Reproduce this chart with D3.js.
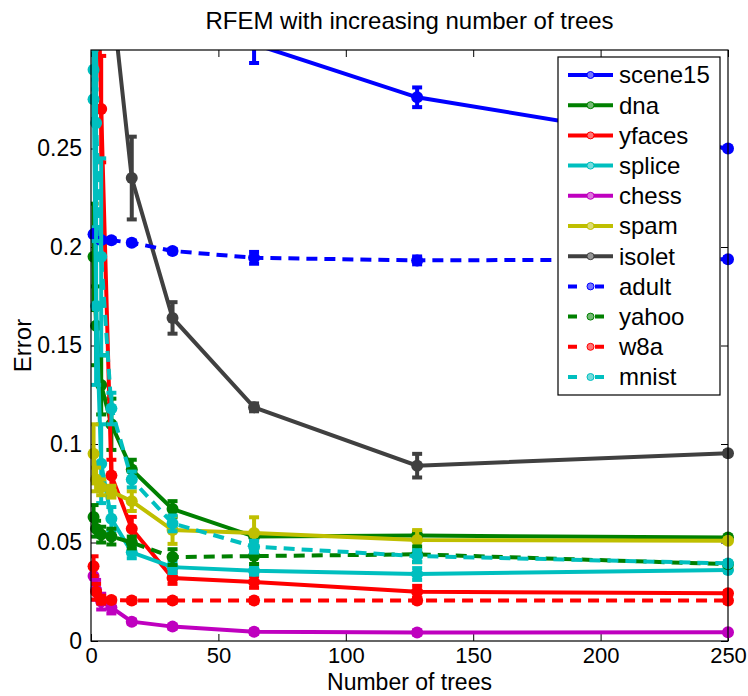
<!DOCTYPE html>
<html>
<head>
<meta charset="utf-8">
<script src="https://cdn.jsdelivr.net/npm/d3@7"></script>
<style>
  body { margin: 0; background: #fff; }
  text { font-family: "Liberation Sans", Arial, sans-serif; fill: #000; }
</style>
</head>
<body>
<div class="chart"></div>
<script>
// nombre d'arbres (axe x)
var trees = [1, 2, 4, 8, 16, 32, 64, 128, 250];
var xTicks = [0, 50, 100, 150, 200, 250];
var yTicks = [0, 0.05, 0.1, 0.15, 0.2, 0.25];

var names  = ["scene15", "dna", "yfaces", "splice", "chess", "spam", "isolet", "adult", "yahoo", "w8a", "mnist"];
var dashed = [false, false, false, false, false, false, false, true, true, true, true];
var colors = ["#0000FF", "#008000", "#FF0000", "#00BFBF", "#BF00BF", "#BFBF00", "#404040",
              "#0000FF", "#008000", "#FF0000", "#00BFBF"];

// erreurs moyennes + écarts
var scene15    = [0.62, 0.55, 0.48, 0.42, 0.37, 0.33, 0.303, 0.276, 0.250];
var scene15Err = [0.02, 0.02, 0.02, 0.015, 0.012, 0.01, 0.0096, 0.005, 0];
var dna        = [0.195, 0.16, 0.13, 0.110, 0.087, 0.067, 0.053, 0.0535, 0.0525];
var dnaErr     = [0.027, 0.02, 0.015, 0.013, 0.005, 0.004, 0.002, 0.002, 0];
var yfaces     = [0.45, 0.38, 0.27, 0.084, 0.057, 0.032, 0.030, 0.025, 0.0242];
var yfacesErr  = [0.03, 0.03, 0.027, 0.008, 0.006, 0.003, 0.003, 0.003, 0.001];
var splice     = [0.290, 0.170, 0.090, 0.062, 0.045, 0.0375, 0.0357, 0.034, 0.036];
var spliceErr  = [0.01, 0.04, 0.02, 0.006, 0.003, 0.003, 0.002, 0.003, 0.001];
var chess      = [0.033, 0.026, 0.020, 0.017, 0.0098, 0.0073, 0.0047, 0.0043, 0.0045];
var chessErr   = [0.005, 0.005, 0.004, 0.003, 0.001, 0.001, 0.001, 0.001, 0.0005];
var spam       = [0.095, 0.082, 0.078, 0.0758, 0.071, 0.0563, 0.0548, 0.0513, 0.0509];
var spamErr    = [0.015, 0.006, 0.004, 0.003, 0.005, 0.007, 0.008, 0.005, 0.001];
var isolet     = [0.45, 0.41, 0.37, 0.33, 0.235, 0.164, 0.1186, 0.089, 0.0953];
var isoletErr  = [0.02, 0.02, 0.02, 0.02, 0.021, 0.008, 0.002, 0.006, 0.001];
var adult      = [0.2065, 0.2055, 0.2036, 0.2034, 0.2022, 0.198, 0.1945, 0.1932, 0.1938];
var adultErr   = [0.002, 0.002, 0.001, 0.001, 0.001, 0.001, 0.003, 0.002, 0.001];
var yahoo      = [0.063, 0.057, 0.054, 0.053, 0.050, 0.0426, 0.0431, 0.044, 0.039];
var yahooErr   = [0.006, 0.004, 0.004, 0.004, 0.003, 0.004, 0.004, 0.004, 0.001];
var w8a        = [0.038, 0.025, 0.021, 0.0208, 0.0205, 0.0205, 0.0205, 0.0205, 0.0205];
var w8aErr     = [0.005, 0.004, 0.002, 0.001, 0.001, 0.001, 0.001, 0.001, 0.001];
var mnist      = [0.275, 0.263, 0.195, 0.118, 0.082, 0.0597, 0.0479, 0.0431, 0.0394];
var mnistErr   = [0.01, 0.06, 0.05, 0.008, 0.004, 0.004, 0.003, 0.003, 0.001];

var values = [scene15, dna, yfaces, splice, chess, spam, isolet, adult, yahoo, w8a, mnist];
var errors = [scene15Err, dnaErr, yfacesErr, spliceErr, chessErr, spamErr, isoletErr, adultErr, yahooErr, w8aErr, mnistErr];

var series = names.map(function(n, i) {
	return {
		name: n, color: colors[i], dashed: dashed[i],
		points: trees.map(function(t, j) { return { t: t, v: values[i][j], e: errors[i][j] }; })
	};
});

var W = 748, H = 696;
var margin = {top: 50, right: 20, bottom: 55, left: 91};
var width = 728 - margin.left, height = 641 - margin.top;

var x = d3.scaleLinear().domain([0, 250]).range([0, width]);
var y = d3.scaleLinear().domain([0, 0.3]).range([height, 0]);

var svg = d3.select(".chart").append("svg")
	.attr("width", W).attr("height", H);

var g = svg.append("g")
	.attr("transform", "translate(" + margin.left + "," + margin.top + ")");

svg.append("defs").append("clipPath").attr("id", "clip")
	.append("rect").attr("width", width).attr("height", height);

// axes (graduations vers l'intérieur, comme matlab)
g.append("g")
	.attr("class", "x axis")
	.attr("transform", "translate(0," + height + ")")
	.call(d3.axisBottom(x).tickValues(xTicks).tickSizeInner(-7).tickSizeOuter(0).tickPadding(6))
	.selectAll("text").style("font-size", "22px");

g.append("g")
	.call(d3.axisTop(x).tickValues(xTicks).tickSizeInner(-7).tickSizeOuter(0).tickFormat(""));

g.append("g")
	.attr("class", "y axis")
	.call(d3.axisLeft(y).tickValues(yTicks).tickSizeInner(-7).tickSizeOuter(0).tickPadding(9)
		.tickFormat(function(d) { return d3.format("~g")(d); }))
	.selectAll("text").style("font-size", "23px");

g.append("g")
	.attr("transform", "translate(" + width + ",0)")
	.call(d3.axisRight(y).tickValues(yTicks).tickSizeInner(-7).tickSizeOuter(0).tickFormat(""));

g.selectAll(".domain").remove();
g.selectAll(".tick line").attr("stroke", "#000");

var plot = g.append("g");

var line = d3.line()
	.x(function(d) { return x(d.t); })
	.y(function(d) { return y(d.v); });

var capW = 5;

series.forEach(function(s) {
	var sg = plot.append("g").attr("class", "serie");

	// barres d'erreur
	var eb = sg.append("g").attr("clip-path", "url(#clip)")
		.selectAll("g").data(s.points.filter(function(d) { return d.e > 0; }))
		.enter().append("g")
		.attr("stroke", s.color).attr("stroke-width", 4);
	eb.append("line")
		.attr("x1", function(d) { return x(d.t); }).attr("x2", function(d) { return x(d.t); })
		.attr("y1", function(d) { return y(d.v - d.e); }).attr("y2", function(d) { return y(d.v + d.e); });
	eb.append("line")
		.attr("x1", function(d) { return x(d.t) - capW; }).attr("x2", function(d) { return x(d.t) + capW; })
		.attr("y1", function(d) { return y(d.v - d.e); }).attr("y2", function(d) { return y(d.v - d.e); });
	eb.append("line")
		.attr("x1", function(d) { return x(d.t) - capW; }).attr("x2", function(d) { return x(d.t) + capW; })
		.attr("y1", function(d) { return y(d.v + d.e); }).attr("y2", function(d) { return y(d.v + d.e); });

	// courbe
	sg.append("path")
		.datum(s.points)
		.attr("clip-path", "url(#clip)")
		.attr("fill", "none")
		.attr("stroke", s.color)
		.attr("stroke-width", 4)
		.attr("stroke-dasharray", s.dashed ? "11,7" : null)
		.attr("d", line);

	// points (seulement ceux dans les limites)
	sg.selectAll("circle")
		.data(s.points.filter(function(d) { return d.v <= 0.3; }))
		.enter().append("circle")
		.attr("cx", function(d) { return x(d.t); })
		.attr("cy", function(d) { return y(d.v); })
		.attr("r", 6)
		.attr("fill", s.color);
});

// cadre
g.append("rect")
	.attr("width", width).attr("height", height)
	.attr("fill", "none").attr("stroke", "#000").attr("stroke-width", 1.2);

// légende
var legend = g.append("g").attr("transform", "translate(" + (558 - margin.left) + "," + (57 - margin.top) + ")");
legend.append("rect")
	.attr("width", 162).attr("height", 338)
	.attr("fill", "#fff").attr("stroke", "#000").attr("stroke-width", 1.2);

var items = legend.selectAll(".legend")
	.data(series).enter().append("g")
	.attr("class", "legend")
	.attr("transform", function(_, i) { return "translate(0," + (18 + i * 30.2) + ")"; });

items.append("line")
	.attr("x1", 10).attr("x2", 55)
	.attr("stroke", function(d) { return d.color; })
	.attr("stroke-width", 4)
	.attr("stroke-dasharray", function(d) { return d.dashed ? "9,18" : null; });

items.append("circle")
	.attr("cx", 32.5).attr("r", 3.5)
	.attr("fill", function(d) { return d3.interpolateRgb(d.color, "#fff")(0.45); })
	.attr("stroke", function(d) { return d.color; })
	.attr("stroke-width", 1);

items.append("text")
	.attr("x", 61).attr("dy", "0.35em")
	.style("font-size", "24px")
	.text(function(d) { return d.name; });

// titres
svg.append("text")
	.attr("x", margin.left + width / 2).attr("y", 29)
	.attr("text-anchor", "middle").style("font-size", "24px")
	.text("RFEM with increasing number of trees");

svg.append("text")
	.attr("x", margin.left + width / 2).attr("y", 690)
	.attr("text-anchor", "middle").style("font-size", "23px")
	.text("Number of trees");

svg.append("text")
	.attr("transform", "translate(31," + (margin.top + height / 2) + ") rotate(-90)")
	.attr("text-anchor", "middle").style("font-size", "24px")
	.text("Error");
</script>
</body>
</html>
